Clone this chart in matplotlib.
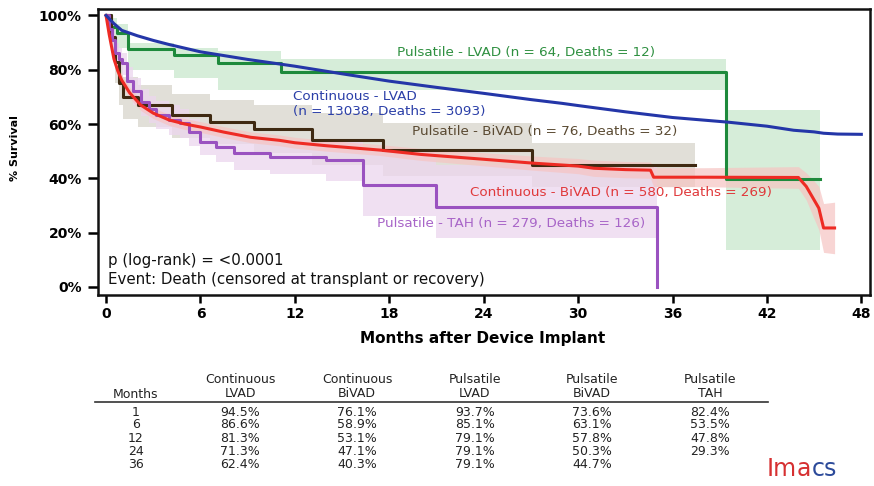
import numpy as np
import matplotlib.pyplot as plt

# Kaplan-Meier survival by device type (months after implant, % survival)

# Continuous - LVAD (smooth, large n)
clvad_t = [0, 0.5, 1, 2, 3, 4, 6, 9, 12, 15, 18, 21, 24, 27, 29, 30, 33, 36, 39.5, 42, 43.7, 45, 45.6, 46.5, 48]
clvad_s = [100, 97, 94.5, 92.5, 90.8, 89.3, 86.6, 83.8, 81.3, 78.5, 75.8, 73.5, 71.3, 69, 67.6, 66.8, 64.5, 62.4, 60.7, 59.2, 57.7, 57.1, 56.6, 56.3, 56.2]

# Continuous - BiVAD
cbivad_t = [0, 0.2, 0.5, 0.75, 1.0, 1.5, 2.2, 3.0, 4.0, 5.0, 6.0, 7.5, 9.2, 11.0, 12.0, 14.0, 17.4, 20.0, 23.8, 27.1,
            30.0, 31.0, 33.0, 34.6, 34.8, 38.0, 44.0, 44.5, 45.0, 45.3, 45.6, 46.3]
cbivad_s = [100, 93, 84, 79.5, 76.1, 71.5, 67, 64, 61.5, 60, 58.9, 57, 55.1, 54, 53.1, 52, 50.4, 48.8, 47.1, 45.6,
            44.5, 43.7, 43.2, 43, 40.4, 40.4, 40.3, 37, 32, 29, 21.7, 21.7]
cbivad_ci = [0, 1.5, 2, 2, 2, 2, 2, 2, 2, 2, 2, 2, 2, 2, 2, 2, 2, 2.2, 2.4, 2.6,
             2.8, 3, 3, 3, 3.5, 3.5, 4, 5, 7, 8, 9, 9.5]

# Pulsatile - LVAD (steps)
plvad_t = [0, 0.3, 0.7, 1.4, 4.3, 7.1, 11.1, 39.4, 45.4]
plvad_s = [100, 95.6, 93.7, 87.5, 85.3, 82.4, 79.1, 39.7, 39.7]
plvad_hi = [100, 99, 97, 90, 88, 87, 84, 65, 65]
plvad_lo = [100, 90, 88, 80, 77, 72.4, 72.4, 13.6, 13.6]

# Pulsatile - BiVAD (steps)
pbivad_t = [0, 0.3, 0.55, 0.8, 1.1, 2.0, 4.2, 6.6, 9.4, 13.1, 17.6, 27.1, 37.4]
pbivad_s = [100, 92, 83, 75, 70, 67, 63.2, 60.7, 58, 54, 50.4, 44.8, 44.8]
pbivad_hi = [100, 97, 90, 83, 77.5, 74.5, 71, 69, 67, 64, 60.5, 53, 53]
pbivad_lo = [100, 86, 75, 67, 62, 59, 55, 52.5, 49.5, 45, 41, 36.8, 36.8]

# Pulsatile - TAH (steps)
tah_t = [0, 0.2, 0.36, 0.57, 0.8, 1.0, 1.3, 1.7, 2.2, 2.7, 3.2, 4.0, 4.7, 5.3, 6.0, 7.0, 8.1, 10.4, 14.0, 16.3, 21.0, 35.0]
tah_s = [100, 95, 90.8, 86, 84, 82.4, 76, 72, 68, 65.5, 63.2, 61.5, 60.3, 57, 53.5, 51.5, 49.3, 47.8, 46.7, 37.5, 29.4, 0]
tah_hi = [100, 98, 94.5, 90, 88, 86, 81, 77, 73, 70.5, 68.5, 67, 65.5, 62, 58.5, 57, 55.5, 54, 54, 50, 45, 45]
tah_lo = [100, 92, 87, 82, 80, 78, 71, 67, 63, 60.5, 58, 56, 55, 52, 48.5, 46, 43, 41.5, 39, 26, 18, 18]

# Table of survival at fixed months
tab_months = [1, 6, 12, 24, 36]
tab_headers = ["Continuous\nLVAD", "Continuous\nBiVAD", "Pulsatile\nLVAD", "Pulsatile\nBiVAD", "Pulsatile\nTAH"]
tab_values = [
    [94.5, 86.6, 81.3, 71.3, 62.4],
    [76.1, 58.9, 53.1, 47.1, 40.3],
    [93.7, 85.1, 79.1, 79.1, 79.1],
    [73.6, 63.1, 57.8, 50.3, 44.7],
    [82.4, 53.5, 47.8, 29.3, None],
]

# Colours
c_blue = '#2436a8'
c_green = '#1e8a3c'
c_red = '#ee2b24'
c_brown = '#3f2a12'
c_purple = '#9a52c0'

fig = plt.figure(figsize=(8.74, 4.86), dpi=100)
ax = fig.add_axes([0.1127, 0.393, 0.8827, 0.5875])

# Confidence bands
ax.fill_between(plvad_t, plvad_lo, plvad_hi, step='post', color='#cfead3', alpha=0.85, lw=0, zorder=1)
ax.fill_between(pbivad_t, pbivad_lo, pbivad_hi, step='post', color='#d8d5cb', alpha=0.75, lw=0, zorder=1)
ax.fill_between(tah_t, tah_lo, tah_hi, step='post', color='#ecd6ee', alpha=0.75, lw=0, zorder=1)
cb_s = np.array(cbivad_s)
cb_ci = np.array(cbivad_ci)
ax.fill_between(cbivad_t, cb_s - cb_ci, cb_s + cb_ci, color='#f6c4c2', alpha=0.7, lw=0, zorder=1)

# Survival curves
lw = 2.2
ax.plot(plvad_t, plvad_s, drawstyle='steps-post', color=c_green, lw=lw, zorder=3)
ax.plot(pbivad_t, pbivad_s, drawstyle='steps-post', color=c_brown, lw=lw, zorder=3)
ax.plot(tah_t, tah_s, drawstyle='steps-post', color=c_purple, lw=lw, zorder=3)
ax.plot(cbivad_t, cbivad_s, color=c_red, lw=lw, zorder=4)
ax.plot(clvad_t, clvad_s, color=c_blue, lw=lw, zorder=5)

# Curve labels
lab_fs = 9.7
ax.text(18.5, 86.4, "Pulsatile - LVAD (n = 64, Deaths = 12)", color='#2e9040', fontsize=lab_fs, va='center')
ax.text(11.9, 70.2, "Continuous - LVAD", color='#2b3fa8', fontsize=lab_fs, va='center')
ax.text(11.9, 64.7, "(n = 13038, Deaths = 3093)", color='#2b3fa8', fontsize=lab_fs, va='center')
ax.text(19.45, 57.4, "Pulsatile - BiVAD (n = 76, Deaths = 32)", color='#5a4a32', fontsize=lab_fs, va='center')
ax.text(23.1, 34.6, "Continuous - BiVAD (n = 580, Deaths = 269)", color='#e0393b', fontsize=lab_fs, va='center')
ax.text(17.2, 23.2, "Pulsatile - TAH (n = 279, Deaths = 126)", color='#a865c8', fontsize=lab_fs, va='center')
ax.text(0.1, 9.6, "p (log-rank) = <0.0001", color='#111111', fontsize=10.8, va='center')
ax.text(0.1, 2.6, "Event: Death (censored at transplant or recovery)", color='#111111', fontsize=10.8, va='center')

# Axes
ax.set_xlim(-0.48, 48.55)
ax.set_ylim(-3, 102.2)
xt = np.arange(0, 49, 6)
yt = np.arange(0, 101, 20)
ax.set_xticks(xt)
ax.set_xticklabels([str(v) for v in xt], fontweight='bold', fontsize=10)
ax.set_yticks(yt)
ax.set_yticklabels([f"{v}%" for v in yt], fontweight='bold', fontsize=10)
ax.tick_params(axis='y', length=7, width=1.8, pad=5)
ax.tick_params(axis='x', length=5.5, width=1.8, pad=3)
for sp in ax.spines.values():
    sp.set_linewidth(1.8)
    sp.set_color('#111111')

fig.text(15.5 / 874, 1 - 148 / 486, "% Survival", rotation=90, ha='center', va='center',
         fontweight='bold', fontsize=8)
fig.text(483 / 874, 1 - 338 / 486, "Months after Device Implant", ha='center', va='center',
         fontweight='bold', fontsize=11)

# Table below the plot
tab_fs = 9
col_x = [240, 357, 475, 592, 710]
fig.text(136 / 874, 1 - 394 / 486, "Months", ha='center', va='center', fontsize=tab_fs, color='#222222')
for cx, head in zip(col_x, tab_headers):
    fig.text(cx / 874, 1 - 386 / 486, head, ha='center', va='center', fontsize=tab_fs,
             color='#222222', linespacing=1.1)
fig.add_artist(plt.Line2D([95 / 874, 768 / 874], [1 - 402 / 486, 1 - 402 / 486],
                          color='#333333', lw=1.2))
for i, m in enumerate(tab_months):
    y = 1 - (412 + 13 * i) / 486
    fig.text(136 / 874, y, str(m), ha='center', va='center', fontsize=tab_fs, color='#222222')
    for cx, col in zip(col_x, tab_values):
        if col[i] is not None:
            fig.text(cx / 874, y, f"{col[i]:.1f}%", ha='center', va='center', fontsize=tab_fs, color='#222222')

# Logo
logo_red = '#d63031'
logo_blue = '#2c4a9a'
t1 = fig.text(767 / 874, 1 - 476 / 486, "Im", color=logo_red, fontsize=17, va='baseline')
t2 = ax.annotate("a", xy=(1, 0), xycoords=t1, va='bottom', color=logo_red, fontsize=17)
ax.annotate("cs", xy=(1, 0), xycoords=t2, va='bottom', color=logo_blue, fontsize=17)

fig.savefig('out.png', dpi=100)
